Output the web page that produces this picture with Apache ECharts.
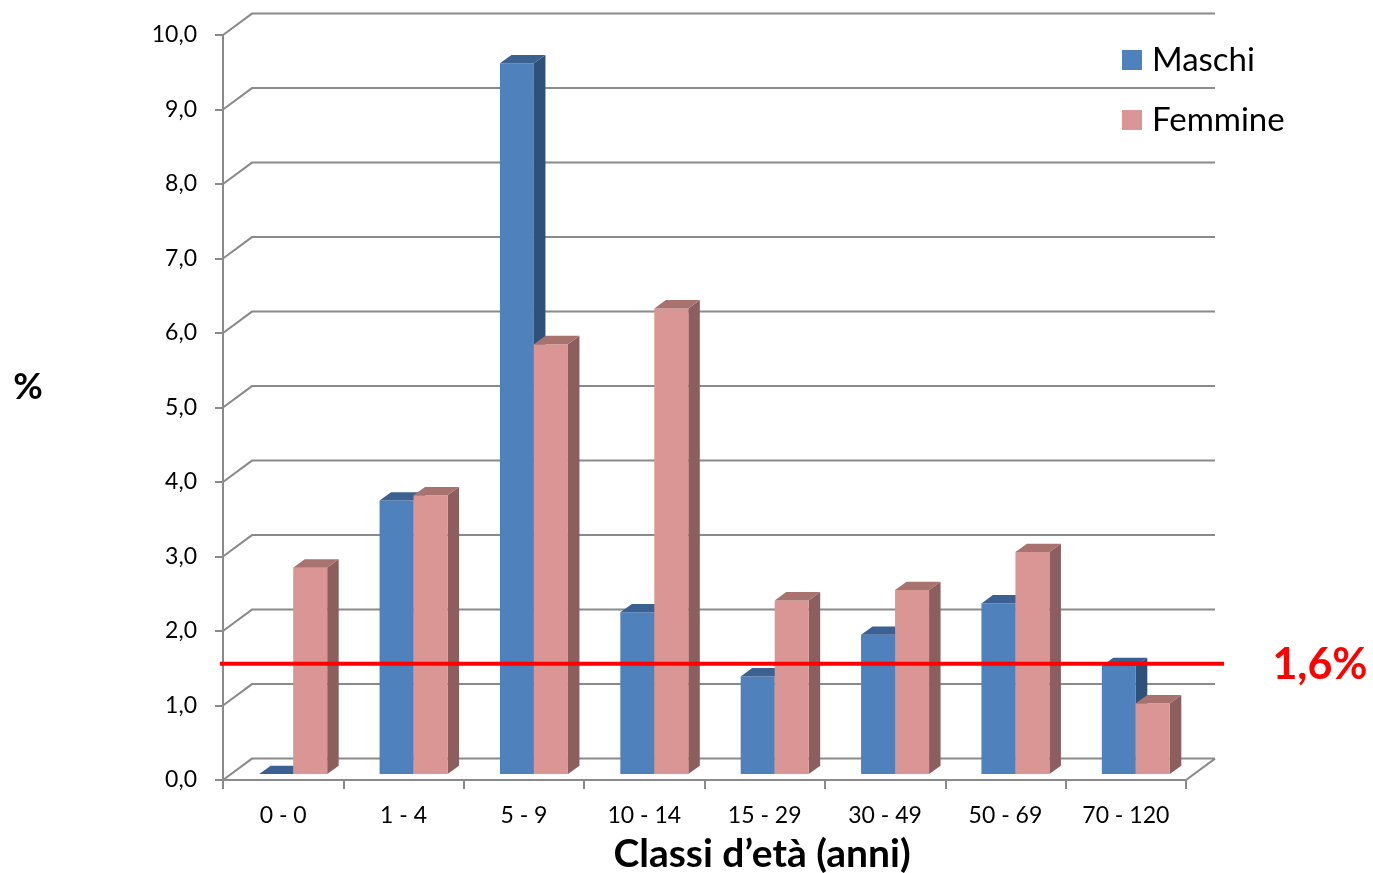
<!DOCTYPE html>
<html><head><meta charset="utf-8">
<script src="https://cdn.jsdelivr.net/npm/echarts@6/dist/echarts.min.js"></script>
<style>html,body{margin:0;padding:0;background:#fff}#c{width:1373px;height:873px}</style>
</head><body><div id="c"></div>
<script>
const categories = ['0 - 0', '1 - 4', '5 - 9', '10 - 14', '15 - 29', '30 - 49', '50 - 69', '70 - 120'];
const maschi = [0.0, 3.67, 9.54, 2.17, 1.31, 1.87, 2.29, 1.45];
const femmine = [2.77, 3.74, 5.77, 6.25, 2.33, 2.47, 2.98, 0.95];
const yTicks = [0, 1, 2, 3, 4, 5, 6, 7, 8, 9, 10];
const mediaTotale = [1.56];
const mediaLabel = '1,6%';
const seriesNames = ['Maschi', 'Femmine'];
const xTitle = 'Classi d’età (anni)';
const yTitle = '%';

const FONT = 'Lato';
const GRID_COLOR = '#8a8a8a';
const DEPTH_X = 29, DEPTH_Y = -21.4;

function barRender(slot, front, topC, sideC) {
  return function (params, api) {
    const i = api.value(0), v = api.value(1);
    const base = api.coord([i, 0]);
    const top = api.coord([i, v]);
    const w = 34, dx = 11.5, dy = -8.3;
    const x0 = base[0] - 24 + slot * w;
    const y0 = base[1] - 6;
    const y1 = top[1] - 6;
    return {
      type: 'group',
      children: [
        { type: 'polygon', shape: { points: [[x0 + w, y1], [x0 + w + dx, y1 + dy], [x0 + w + dx, y0 + dy], [x0 + w, y0]] }, style: { fill: sideC } },
        { type: 'rect', shape: { x: x0, y: y1, width: w, height: y0 - y1 }, style: { fill: front } },
        { type: 'polygon', shape: { points: [[x0, y1], [x0 + w, y1], [x0 + w + dx, y1 + dy], [x0 + dx, y1 + dy]] }, style: { fill: topC } }
      ]
    };
  };
}

const chart = echarts.init(document.getElementById('c'));
chart.setOption({
  animation: false,
  backgroundColor: '#ffffff',
  grid: { left: 223, top: 35, width: 963, height: 745 },
  legend: {
    data: seriesNames,
    orient: 'vertical',
    left: 1122, top: 40, padding: 0,
    icon: 'rect',
    itemWidth: 20, itemHeight: 20, itemGap: 20,
    textStyle: { fontFamily: FONT, fontSize: 33, color: '#000', lineHeight: 40, padding: [0, 0, 0, 5] }
  },
  xAxis: {
    type: 'category',
    data: categories,
    boundaryGap: true,
    axisLine: { show: true, lineStyle: { color: GRID_COLOR, width: 2 } },
    axisTick: { show: true, length: 9, lineStyle: { color: GRID_COLOR, width: 2 } },
    axisLabel: { fontFamily: FONT, fontSize: 23, color: '#000', margin: 24 },
    splitLine: { show: false }
  },
  yAxis: {
    type: 'value',
    min: 0, max: 10, interval: 1,
    axisLine: { show: true, lineStyle: { color: GRID_COLOR, width: 2 } },
    axisTick: { show: true, length: 8, lineStyle: { color: GRID_COLOR, width: 2 } },
    axisLabel: { fontFamily: FONT, fontSize: 23, color: '#000', margin: 26,
      formatter: v => v.toFixed(1).replace('.', ',') },
    splitLine: { show: false }
  },
  graphic: [
    { type: 'text', x: 762, y: 854, style: { text: xTitle, font: 'bold 39px ' + FONT, fill: '#000', align: 'center', verticalAlign: 'middle' } },
    { type: 'text', x: 28, y: 387, style: { text: yTitle, font: 'bold 36px ' + FONT, fill: '#000', align: 'center', verticalAlign: 'middle' } }
  ],
  series: [
    {
      type: 'custom', name: 'walls', silent: true, z: 1,
      data: yTicks.map(v => [0, v]),
      encode: { x: 0, y: 1 },
      renderItem: function (params, api) {
        const cs = params.coordSys;
        const y = api.coord([0, api.value(1)])[1];
        const x0 = cs.x, x1 = cs.x + cs.width;
        const children = [{
          type: 'polyline',
          shape: { points: [[x0, y], [x0 + DEPTH_X, y + DEPTH_Y], [x1 + DEPTH_X, y + DEPTH_Y]] },
          style: { stroke: GRID_COLOR, lineWidth: 2, fill: null }
        }];
        if (api.value(1) === 0) {
          children.push({ type: 'line', shape: { x1: x1, y1: y, x2: x1 + DEPTH_X, y2: y + DEPTH_Y }, style: { stroke: GRID_COLOR, lineWidth: 2 } });
        }
        return { type: 'group', children: children };
      }
    },
    {
      type: 'custom', name: 'Maschi', z: 2,
      itemStyle: { color: '#4F81BD' },
      data: categories.map((c, i) => [i, maschi[i]]),
      encode: { x: 0, y: 1 },
      renderItem: barRender(0, '#4F81BD', '#3B6192', '#2F5079')
    },
    {
      type: 'custom', name: 'Femmine', z: 3,
      itemStyle: { color: '#D99694' },
      data: categories.map((c, i) => [i, femmine[i]]),
      encode: { x: 0, y: 1 },
      renderItem: barRender(1, '#D99694', '#A8736F', '#8C5F5E')
    },
    {
      type: 'custom', name: 'media', silent: true, z: 10,
      data: mediaTotale.map(v => [0, v]),
      encode: { x: 0, y: 1 },
      renderItem: function (params, api) {
        const cs = params.coordSys;
        const y = api.coord([0, api.value(1)])[1];
        return {
          type: 'group',
          children: [
            { type: 'line', shape: { x1: cs.x - 3, y1: y, x2: cs.x + cs.width + 38, y2: y }, style: { stroke: '#FF0000', lineWidth: 4 } },
            { type: 'text', x: 1320, y: y + 1, style: { text: mediaLabel, font: 'bold 43px ' + FONT, fill: '#FF0000', align: 'center', verticalAlign: 'middle' } }
          ]
        };
      }
    }
  ]
});
</script>
</body></html>
